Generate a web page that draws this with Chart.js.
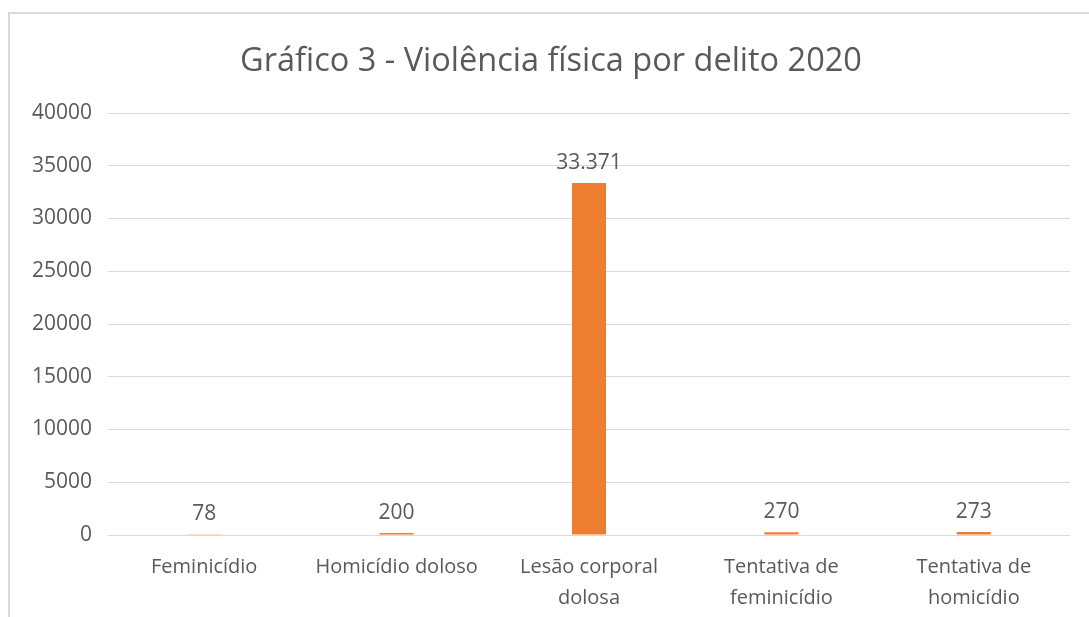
<!DOCTYPE html>
<html>
<head>
<meta charset="utf-8">
<script src="https://cdn.jsdelivr.net/npm/chart.js@4"></script>
<style>
  body { margin: 0; background: #fff; overflow: hidden; }
  #frame {
    position: absolute; left: 8px; top: 12px; width: 1200px; height: 700px;
    border: 2px solid #d9d9d9; box-sizing: border-box;
  }
  #wrap { position: absolute; left: 0; top: 0; width: 1089px; height: 617px; }
</style>
</head>
<body>
<div id="frame"></div>
<div id="wrap"><canvas id="myChart"></canvas></div>
<script>
const categories = [
  "Feminicídio",
  "Homicídio doloso",
  ["Lesão corporal", "dolosa"],
  ["Tentativa de", "feminicídio"],
  ["Tentativa de", "homicídio"],
];
const values = [78, 200, 33371, 270, 273];
const valueLabels = ["78", "200", "33.371", "270", "273"];
const yTicks = [0, 5000, 10000, 15000, 20000, 25000, 30000, 35000, 40000];

const textColor = "#595959";
const fontName = "'Open Sans', sans-serif";

// draws the value above each bar
const barLabels = {
  id: "barLabels",
  afterDatasetsDraw(chart) {
    const ctx = chart.ctx;
    const meta = chart.getDatasetMeta(0);
    ctx.save();
    ctx.fillStyle = textColor;
    ctx.font = "21px " + fontName;
    ctx.textAlign = "center";
    ctx.textBaseline = "middle";
    meta.data.forEach((bar, i) => {
      ctx.fillText(valueLabels[i], bar.x, bar.y - 20);
    });
    ctx.restore();
  },
};

new Chart("myChart", {
  type: "bar",
  data: {
    labels: categories,
    datasets: [
      {
        data: values,
        backgroundColor: "#ED7D31",
        categoryPercentage: 1,
        barPercentage: 0.177,
      },
    ],
  },
  options: {
    responsive: true,
    maintainAspectRatio: false,
    animation: false,
    layout: { padding: { left: 32, right: 19, top: 0, bottom: 0 } },
    plugins: {
      legend: { display: false },
      tooltip: { enabled: false },
      title: {
        display: true,
        text: "Gráfico 3 - Violência física por delito 2020",
        color: textColor,
        font: { family: fontName, size: 32.5, weight: "normal" },
        padding: { top: 42, bottom: 32 },
      },
    },
    scales: {
      x: {
        grid: { display: false, drawTicks: false },
        border: { display: false },
        ticks: {
          color: textColor,
          font: { family: fontName, size: 20, lineHeight: 1.55 },
          padding: 17,
          maxRotation: 0,
          autoSkip: false,
        },
        afterFit: (scale) => { scale.height = 82; },
      },
      y: {
        min: 0,
        max: 40000,
        afterBuildTicks: (scale) => {
          scale.ticks = yTicks.map((v) => ({ value: v }));
        },
        grid: { color: "#d9d9d9", lineWidth: 1, drawTicks: false },
        border: { display: false },
        ticks: {
          color: textColor,
          font: { family: fontName, size: 21 },
          padding: 16,
          callback: (v) => String(v),
        },
        afterFit: (scale) => { scale.width = 76; },
      },
    },
  },
  plugins: [barLabels],
});
</script>
</body>
</html>
